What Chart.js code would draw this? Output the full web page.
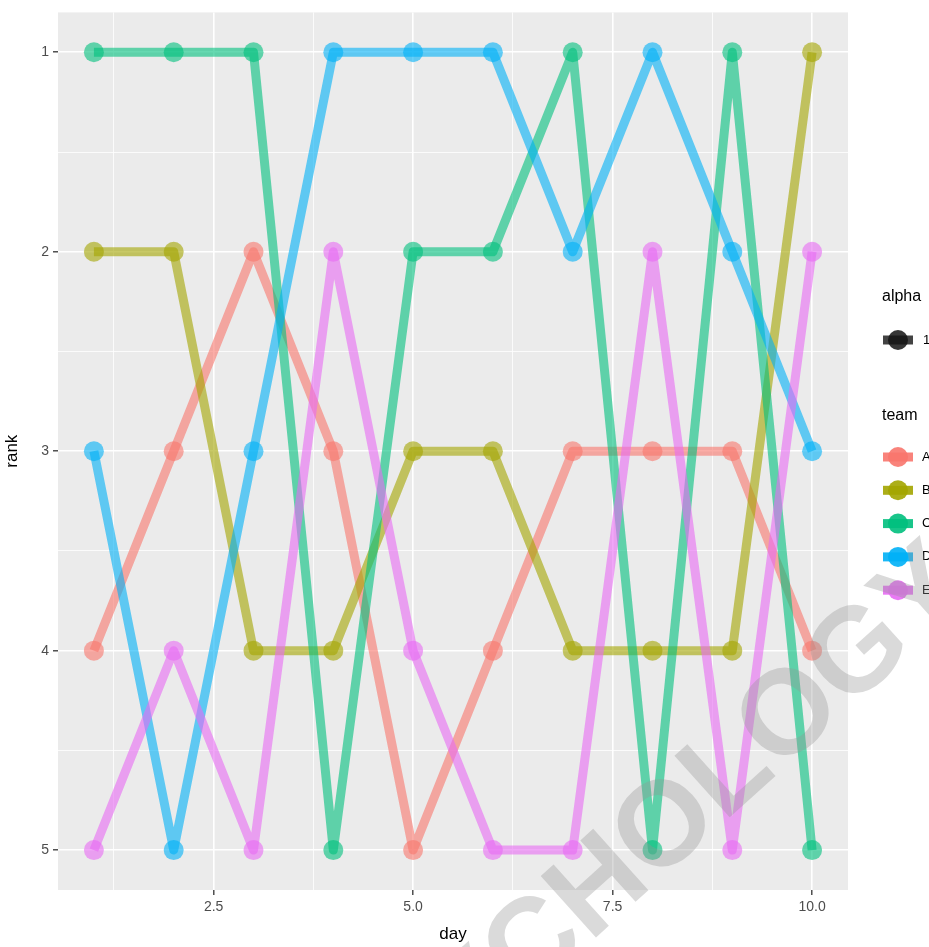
<!DOCTYPE html>
<html lang="en">
<head>
<meta charset="UTF-8">
<title>rank by day</title>
<script src="https://cdn.jsdelivr.net/npm/chart.js@4.4.1/dist/chart.umd.min.js"></script>
<style>
  html, body { margin: 0; padding: 0; background: #fff; }
  #wrap { width: 929px; height: 947px; }
</style>
</head>
<body>
<div id="wrap"><canvas id="rankChart"></canvas></div>
<script>
// data
const days = [1, 2, 3, 4, 5, 6, 7, 8, 9, 10];
const teams = ["A", "B", "C", "D", "E"];
const rankA = [4, 3, 2, 3, 5, 4, 3, 3, 3, 4];
const rankB = [2, 2, 4, 4, 3, 3, 4, 4, 4, 1];
const rankC = [1, 1, 1, 5, 2, 2, 1, 5, 1, 5];
const rankD = [3, 5, 3, 1, 1, 1, 2, 1, 2, 3];
const rankE = [5, 4, 5, 2, 4, 5, 5, 2, 5, 2];
const xMajor = [2.5, 5, 7.5, 10];
const xMinor = [1.25, 3.75, 6.25, 8.75];
const yMajor = [1, 2, 3, 4, 5];
const yMinor = [1.5, 2.5, 3.5, 4.5];

const ranks = [rankA, rankB, rankC, rankD, rankE];
const teamRGB = ["248,118,109", "163,165,0", "0,191,125", "0,176,246", "231,107,243"];
const FONT = "'Liberation Sans', Arial, sans-serif";

const datasets = [];
teams.forEach((t, i) => {
    const pts = days.map((d, j) => ({ x: d, y: ranks[i][j] }));
    datasets.push({
        label: t,
        data: pts,
        borderColor: `rgba(${teamRGB[i]},0.6)`,
        borderWidth: 9,
        borderJoinStyle: "round",
        pointRadius: 0,
        tension: 0,
        order: 10 - i
    });
    datasets.push({
        label: t + " pts",
        data: pts,
        showLine: false,
        pointRadius: 10,
        pointBorderWidth: 0,
        pointBackgroundColor: `rgba(${teamRGB[i]},0.6)`,
        order: 5 - i
    });
});

function isIn(arr, v) {
    return arr.some(a => Math.abs(a - v) < 1e-9);
}

const panelPlugin = {
    id: "panel",
    beforeDraw(chart) {
        const ctx = chart.ctx;
        const a = chart.chartArea;
        ctx.save();
        ctx.fillStyle = "#ffffff";
        ctx.fillRect(0, 0, chart.width, chart.height);
        ctx.fillStyle = "#EBEBEB";
        ctx.fillRect(a.left, a.top, a.right - a.left, a.bottom - a.top);
        ctx.restore();
    }
};

const legendPlugin = {
    id: "ggLegend",
    afterDraw(chart) {
        const ctx = chart.ctx;
        ctx.save();
        ctx.textBaseline = "middle";
        ctx.textAlign = "left";
        ctx.fillStyle = "#000";
        ctx.font = "16px " + FONT;
        ctx.fillText("alpha", 882, 297);
        ctx.fillText("team", 882, 416);

        function key(y, rgb, a1, a2) {
            ctx.strokeStyle = `rgba(${rgb},${a1})`;
            ctx.lineWidth = 9;
            ctx.beginPath();
            ctx.moveTo(883, y);
            ctx.lineTo(913, y);
            ctx.stroke();
            ctx.fillStyle = `rgba(${rgb},${a2})`;
            ctx.beginPath();
            ctx.arc(898, y, 10, 0, Math.PI * 2);
            ctx.fill();
        }
        key(340, "20,20,20", 0.8, 0.85);
        ctx.fillStyle = "#000";
        ctx.font = "13px " + FONT;
        ctx.fillText("1", 923, 340);
        teams.forEach((t, i) => {
            const y = 457 + i * 33.3;
            key(y, teamRGB[i], 0.9, 0.9);
            ctx.fillStyle = "#000";
            ctx.font = "13px " + FONT;
            ctx.fillText(t, 922, y);
        });
        ctx.restore();

        // watermark
        ctx.save();
        ctx.font = "bold 120px " + FONT;
        const word = "PSYCHOLOGY";
        const before = ctx.measureText("PSYCHOL").width;
        const oW = ctx.measureText("O").width;
        ctx.translate(784, 710);
        ctx.rotate(-42 * Math.PI / 180);
        ctx.fillStyle = "rgba(150,150,150,0.35)";
        ctx.textBaseline = "alphabetic";
        ctx.fillText(word, -(before + oW / 2), 120 * 0.36);
        ctx.restore();
    }
};

new Chart(document.getElementById("rankChart"), {
    type: "line",
    data: { datasets: datasets },
    options: {
        responsive: true,
        maintainAspectRatio: false,
        animation: false,
        layout: { padding: { top: 10, right: 81, left: 0, bottom: 0 } },
        plugins: { legend: { display: false }, tooltip: { enabled: false } },
        scales: {
            x: {
                type: "linear",
                min: 0.55,
                max: 10.45,
                afterBuildTicks(scale) {
                    scale.ticks = xMinor.concat(xMajor).sort((a, b) => a - b).map(v => ({ value: v }));
                },
                afterFit(scale) { scale.height = 57; },
                ticks: {
                    autoSkip: false,
                    maxRotation: 0,
                    padding: 4,
                    color: "#4D4D4D",
                    font: { family: FONT, size: 14 },
                    callback: v => isIn(xMajor, v) ? v.toFixed(1) : ""
                },
                grid: {
                    color: "#ffffff",
                    lineWidth: c => isIn(xMajor, c.tick.value) ? 1.6 : 0.8,
                    tickLength: 5,
                    tickColor: c => isIn(xMajor, c.tick.value) ? "#333333" : "rgba(0,0,0,0)",
                    tickWidth: 1.3
                },
                border: { display: false },
                title: {
                    display: true,
                    text: "day",
                    color: "#000",
                    font: { family: FONT, size: 17 },
                    padding: { top: 0, bottom: 2 }
                }
            },
            y: {
                type: "linear",
                reverse: true,
                min: 0.8,
                max: 5.2,
                afterBuildTicks(scale) {
                    scale.ticks = yMajor.concat(yMinor).sort((a, b) => a - b).map(v => ({ value: v }));
                },
                afterFit(scale) { scale.width = 58; },
                ticks: {
                    autoSkip: false,
                    padding: 4,
                    color: "#4D4D4D",
                    font: { family: FONT, size: 14 },
                    callback: v => isIn(yMajor, v) ? String(v) : ""
                },
                grid: {
                    color: "#ffffff",
                    lineWidth: c => isIn(yMajor, c.tick.value) ? 1.6 : 0.8,
                    tickLength: 5,
                    tickColor: c => isIn(yMajor, c.tick.value) ? "#333333" : "rgba(0,0,0,0)",
                    tickWidth: 1.3
                },
                border: { display: false },
                title: {
                    display: true,
                    text: "rank",
                    color: "#000",
                    font: { family: FONT, size: 17 },
                    padding: { top: 2, bottom: 0 }
                }
            }
        }
    },
    plugins: [panelPlugin, legendPlugin]
});
</script>
</body>
</html>
